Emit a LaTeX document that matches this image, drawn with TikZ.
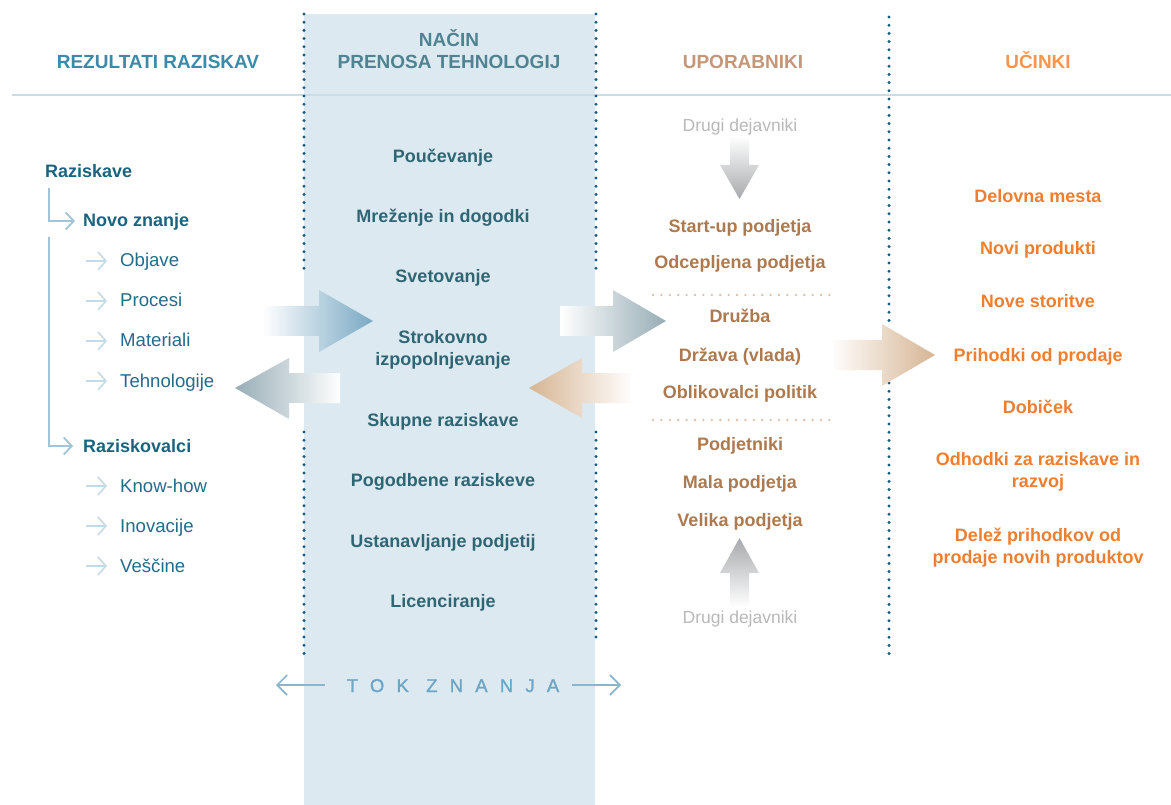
\documentclass[tikz,border=0pt]{standalone}
\usepackage{fontspec}
\setmainfont{Liberation Sans}
\newfontfamily\spacedfont[LetterSpace=66,FakeBold=1.2]{Liberation Sans}
\usetikzlibrary{arrows.meta}
\definecolor{hdrBlue}{HTML}{3D8AA8}
\definecolor{hdrMid}{HTML}{4F8391}
\definecolor{hdrTan}{HTML}{C4967A}
\definecolor{hdrOrange}{HTML}{F5964F}
\definecolor{leftT}{HTML}{236C8A}
\definecolor{leftP}{HTML}{1B6480}
\definecolor{midT}{HTML}{2F6673}
\definecolor{brownT}{HTML}{AD7A4F}
\definecolor{orangeT}{HTML}{EF7F30}
\definecolor{panelC}{HTML}{DDE9F1}
\definecolor{ruleC}{HTML}{C9DDE9}
\definecolor{dotC}{HTML}{185B7E}
\definecolor{treeC}{HTML}{A3C3D6}
\definecolor{subC}{HTML}{C3DBE7}
\definecolor{grayT}{HTML}{B9B9B9}
\definecolor{grayA}{HTML}{A7A9AC}
\definecolor{tanDot}{HTML}{E0C0A3}
\definecolor{tokC}{HTML}{6DA5C5}
\definecolor{tokLine}{HTML}{8AB6CD}
\definecolor{blueA}{HTML}{79A9C4}
\definecolor{slateA}{HTML}{97ADB6}
\definecolor{tanA}{HTML}{D6B593}
\begin{document}
\begin{tikzpicture}[x=1pt,y=-1pt,
  hdr/.style={font=\bfseries\fontsize{19}{22}\selectfont, align=center, inner sep=0pt},
  midtxt/.style={font=\bfseries\fontsize{18}{22}\selectfont, text=midT, align=center, inner sep=0pt, anchor=base},
  usrtxt/.style={font=\bfseries\fontsize{18}{22}\selectfont, text=brownT, align=center, inner sep=0pt, anchor=base},
  outtxt/.style={font=\bfseries\fontsize{18}{22}\selectfont, text=orangeT, align=center, inner sep=0pt, anchor=base},
  lefttxt/.style={font=\fontsize{18.6}{22}\selectfont, text=leftT, inner sep=0pt, anchor=base west},
  leftpar/.style={font=\bfseries\fontsize{18}{22}\selectfont, text=leftP, inner sep=0pt, anchor=base west},
  drugi/.style={font=\fontsize{17.5}{22}\selectfont, text=grayT, inner sep=0pt, anchor=base},
  dotline/.style={draw=dotC, line width=3.3pt, line cap=round, dash pattern=on 0pt off 8.2pt},
  tandots/.style={draw=tanDot, line width=2.6pt, line cap=round, dash pattern=on 0pt off 8.4pt},
  treeline/.style={draw=treeC, line width=1.8pt, -{Straight Barb[length=8pt,width=17pt]}},
  subarrow/.style={draw=subC, line width=1.6pt, -{Straight Barb[length=8pt,width=18pt]}},
  tokarrow/.style={draw=tokLine, line width=1.6pt, -{Straight Barb[length=10pt,width=20pt]}}
]
\useasboundingbox (0,0) rectangle (1171,805);
\fill[white] (0,0) rectangle (1171,805);

% middle panel
\fill[panelC] (304,14) rectangle (595,805);
% header rule
\draw[ruleC, line width=2.2pt] (12,95) -- (1171,95);

% dotted separators
\draw[dotline] (304,14) -- (304,276);
\draw[dotline] (304,432) -- (304,655);
\draw[dotline] (596,14) -- (596,276);
\draw[dotline] (596,432) -- (596,645);
\draw[dotline] (889,17) -- (889,323);
\draw[dotline] (889,383) -- (889,660);

% headers
\node[hdr, text=hdrBlue, anchor=base] (h1) at (158,69) {REZULTATI RAZISKAV};
\node[hdr, text=hdrMid, anchor=south] (h2) at (449,69) {NAČIN\\PRENOSA TEHNOLOGIJ};
\node[hdr, text=hdrTan, anchor=base] (h3) at (743,69) {UPORABNIKI};
\node[hdr, text=hdrOrange, anchor=base] (h4) at (1038,69) {UČINKI};

% left column
\node[leftpar] (raz) at (45,177.5) {Raziskave};
\node[leftpar] (nz) at (83,227) {Novo znanje};
\node[lefttxt] (ob) at (120,267) {Objave};
\node[lefttxt] (pr) at (120,307) {Procesi};
\node[lefttxt] (ma) at (120,347) {Materiali};
\node[lefttxt] (te) at (120,387) {Tehnologije};
\node[leftpar] (rk) at (83,452) {Raziskovalci};
\node[lefttxt] (kh) at (120,492) {Know-how};
\node[lefttxt] (in) at (120,532) {Inovacije};
\node[lefttxt] (ve) at (120,572) {Veščine};

\coordinate (t1a) at (49,188);
\coordinate (t2a) at (49,237);
\draw[treeline] (t1a) |- ([xshift=-8pt,yshift=6pt]nz.base west);
\draw[treeline] (t2a) |- ([xshift=-10pt,yshift=6pt]rk.base west);
\foreach \n in {ob,pr,ma,te,kh,in,ve}{
  \draw[subarrow] ([xshift=-34pt,yshift=6pt]\n.base west) -- ([xshift=-13pt,yshift=6pt]\n.base west);
}

% middle column
\node[midtxt] (m1) at (443,163) {Poučevanje};
\node[midtxt] (m2) at (443,223) {Mreženje in dogodki};
\node[midtxt] (m3) at (443,283) {Svetovanje};
\node[midtxt, anchor=south] (m4) at (443,369) {Strokovno\\izpopolnjevanje};
\node[midtxt] (m5) at (443,426) {Skupne raziskave};
\node[midtxt] (m6) at (443,486) {Pogodbene raziskeve};
\node[midtxt] (m7) at (443,547) {Ustanavljanje podjetij};
\node[midtxt] (m8) at (443,607) {Licenciranje};

% users column
\node[drugi] (d1) at (740,132) {Drugi dejavniki};
\node[usrtxt] (u1) at (740,233) {Start-up podjetja};
\node[usrtxt] (u2) at (740,269) {Odcepljena podjetja};
\node[usrtxt] (u3) at (740,323) {Družba};
\node[usrtxt] (u4) at (740,361) {Država (vlada)};
\node[usrtxt] (u5) at (740,398) {Oblikovalci politik};
\node[usrtxt] (u6) at (740,450) {Podjetniki};
\node[usrtxt] (u7) at (740,488) {Mala podjetja};
\node[usrtxt] (u8) at (740,526) {Velika podjetja};
\node[drugi] (d2) at (740,623) {Drugi dejavniki};
\draw[tandots] (653,295) -- (833,295);
\draw[tandots] (653,420) -- (833,420);

% outputs column
\node[outtxt] (o1) at (1038,203) {Delovna mesta};
\node[outtxt] (o2) at (1038,255) {Novi produkti};
\node[outtxt] (o3) at (1038,308) {Nove storitve};
\node[outtxt] (o4) at (1038,361) {Prihodki od prodaje};
\node[outtxt] (o5) at (1038,413) {Dobiček};
\node[outtxt, anchor=south] (o6) at (1038,491) {Odhodki za raziskave in\\razvoj};
\node[outtxt, anchor=south] (o7) at (1038,567) {Delež prihodkov od\\prodaje novih produktov};

% big block arrows
\shade[left color=white, right color=blueA]
  (262,306) -- (319,306) -- (319,290) -- (373,321) -- (319,352) -- (319,336) -- (262,336) -- cycle;
\shade[left color=slateA, right color=white]
  (235,388) -- (289,358) -- (289,373) -- (340,373) -- (340,403) -- (289,403) -- (289,419) -- cycle;
\shade[left color=white, right color=slateA]
  (560,306) -- (613,306) -- (613,290) -- (666,321) -- (613,352) -- (613,336) -- (560,336) -- cycle;
\shade[left color=tanA, right color=white]
  (529,388) -- (582,358) -- (582,373) -- (633,373) -- (633,403) -- (582,403) -- (582,418) -- cycle;
\shade[left color=white, right color=tanA]
  (830,340) -- (882,340) -- (882,324) -- (935,355) -- (882,386) -- (882,370) -- (830,370) -- cycle;
% gray vertical arrows
\shade[top color=white, bottom color=grayA]
  (730,136) -- (749,136) -- (749,165) -- (759,165) -- (739.5,199) -- (720,165) -- (730,165) -- cycle;
\shade[top color=grayA, bottom color=white]
  (739.5,538) -- (759,573) -- (749,573) -- (749,607) -- (730,607) -- (730,573) -- (720,573) -- cycle;

% knowledge flow
\node[font=\spacedfont\fontsize{18.5}{20}\selectfont, text=tokC, inner sep=0pt, anchor=base] (tok) at (453,692) {TOK ZNANJA};
\coordinate (tokLs) at (325,685);
\coordinate (tokL) at (276,685);
\coordinate (tokRs) at (572,685);
\coordinate (tokR) at (621,685);
\draw[tokarrow] (tokLs) -- (tokL);
\draw[tokarrow] (tokRs) -- (tokR);
\end{tikzpicture}
\end{document}
